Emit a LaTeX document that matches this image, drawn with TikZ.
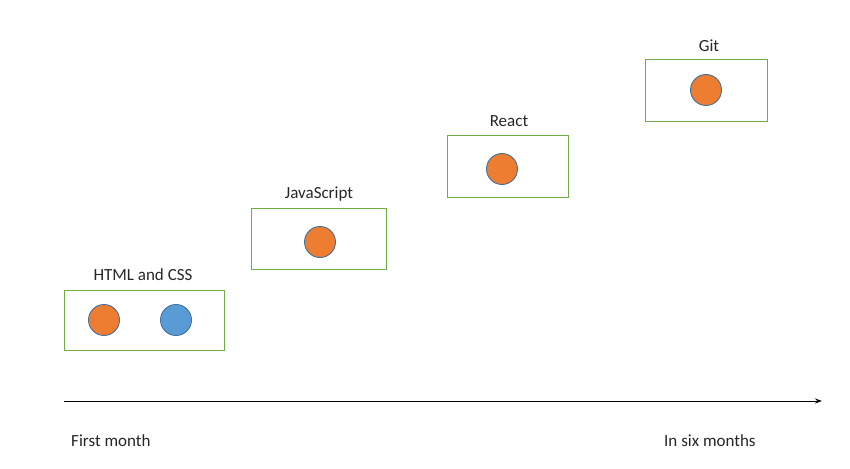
\documentclass[tikz,border=0pt]{standalone}
\usepackage{fontspec}
\setmainfont{Carlito}
\usetikzlibrary{arrows.meta}
\definecolor{boxgreen}{HTML}{70AD47}
\definecolor{dotorange}{HTML}{ED7D31}
\definecolor{dotblue}{HTML}{5B9BD5}
\definecolor{dotedge}{HTML}{41719C}
\tikzset{
  skillbox/.style={draw=boxgreen, line width=1pt, fill=white},
  dot/.style={circle, draw=dotedge, line width=0.9pt, minimum size=31pt, inner sep=0pt},
  odot/.style={dot, fill=dotorange},
  bdot/.style={dot, fill=dotblue},
  lbl/.style={font=\fontsize{17}{20}\selectfont, text=black!85, inner sep=0pt},
}
\begin{document}
\begin{tikzpicture}[x=1pt,y=-1pt]
\useasboundingbox (0,0) rectangle (850,468);
% boxes
\draw[skillbox] (64,290) rectangle (224,350);
\draw[skillbox] (251,208) rectangle (386,269);
\draw[skillbox] (447,135) rectangle (568,197);
\draw[skillbox] (645,60) rectangle (767,121);
% circles
\node[odot] (html) at (104,320) {};
\node[bdot] (css) at (176,320) {};
\node[odot] (js) at (320,242) {};
\node[odot] (react) at (502,169) {};
\node[odot] (git) at (706,90) {};
% labels
\node[lbl] (lhtml) at (143,275) {HTML and CSS};
\node[lbl] (ljs) at (319,194) {JavaScript};
\node[lbl] (lreact) at (509,121) {React};
\node[lbl] (lgit) at (709,46) {Git};
% axis
\coordinate (a0) at (64,401);
\coordinate (a1) at (822,401);
\draw[line width=1pt, -{Stealth[length=7pt,width=5pt]}] (a0) -- (a1);
\node[lbl, anchor=west] (first) at (71,441) {First month};
\node[lbl, anchor=west] (six) at (664,441) {In six months};
\end{tikzpicture}
\end{document}
